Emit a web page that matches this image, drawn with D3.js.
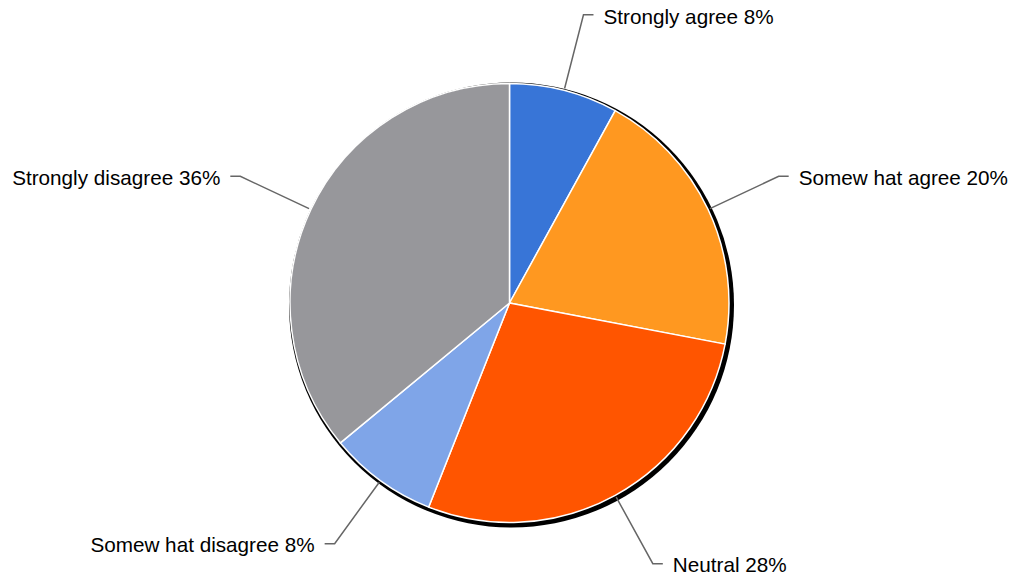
<!DOCTYPE html>
<html>
<head>
<meta charset="utf-8">
<script src="https://cdn.jsdelivr.net/npm/d3@7"></script>
<style>
  html, body { margin: 0; padding: 0; background: #fff; }
  svg { display: block; }
</style>
</head>
<body>
<svg id="chart" width="1009" height="581"></svg>
<script>
const categories = ["Strongly agree", "Somew hat agree", "Neutral", "Somew hat disagree", "Strongly disagree"];
const values = [8, 20, 28, 8, 36];
const colors = ["#3875d7", "#ff9820", "#ff5500", "#7fa5e8", "#97979b"];

const W = 1009, H = 581;
const cx = 509.5, cy = 303, R = 219.5;
const svg = d3.select("#chart");

const data = categories.map((c, i) => ({ name: c, value: values[i], color: colors[i] }));
const pie = d3.pie().value(d => d.value).sort(null);
const arcs = pie(data);
const arc = d3.arc().innerRadius(0).outerRadius(R);

const g = svg.append("g").attr("transform", `translate(${cx},${cy})`);

// shadow
g.append("circle")
  .attr("cx", 2).attr("cy", 2).attr("r", R + 3)
  .attr("fill", "#000");

g.selectAll("path.slice")
  .data(arcs)
  .enter().append("path")
  .attr("class", "slice")
  .attr("d", arc)
  .attr("fill", d => d.data.color)
  .attr("stroke", "#fff")
  .attr("stroke-width", 1.5)
  .attr("stroke-linejoin", "round");

// leader lines & labels
const rStart = R + 2, rElbow = R + 78;
arcs.forEach(a => {
  const mid = (a.startAngle + a.endAngle) / 2;
  const sx = Math.sin(mid), sy = -Math.cos(mid);
  const p0 = [rStart * sx, rStart * sy];
  const p1 = [rElbow * sx, rElbow * sy];
  const right = sx >= 0;
  const p2 = [p1[0] + (right ? 10 : -10), p1[1]];
  g.append("polyline")
    .attr("points", [p0, p1, p2].map(p => p.join(",")).join(" "))
    .attr("fill", "none")
    .attr("stroke", "#666")
    .attr("stroke-width", 1.5);
  g.append("text")
    .attr("x", p2[0] + (right ? 10 : -10))
    .attr("y", p2[1])
    .attr("dy", "0.42em")
    .attr("text-anchor", right ? "start" : "end")
    .attr("font-family", "Liberation Sans, Arial, sans-serif")
    .attr("font-size", 20.7)
    .attr("fill", "#000")
    .text(`${a.data.name} ${a.data.value}%`);
});
</script>
</body>
</html>
